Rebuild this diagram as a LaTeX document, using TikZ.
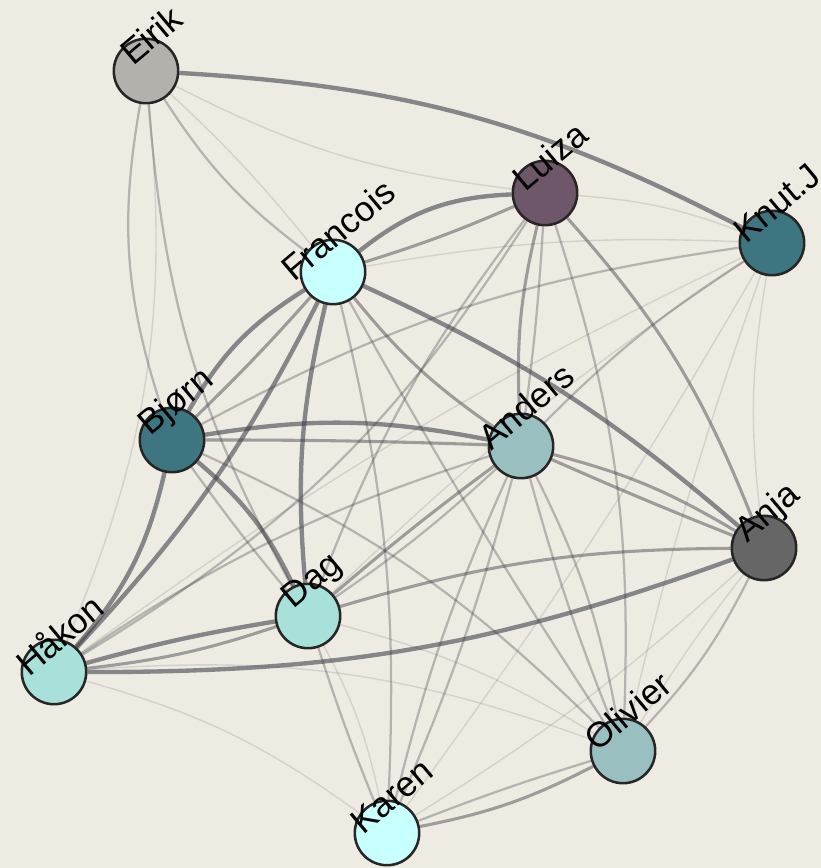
\documentclass[tikz,border=0pt]{standalone}
\usepackage{fontspec}
\setmainfont{Liberation Sans}
\usetikzlibrary{backgrounds}
\definecolor{bgcol}{HTML}{EEECE2}
\definecolor{eirikcol}{HTML}{B3B1AB}
\definecolor{luizacol}{HTML}{6E5768}
\definecolor{tealcol}{HTML}{3D7680}
\definecolor{cyancol}{HTML}{C8FFFF}
\definecolor{greyteal}{HTML}{9ABFC0}
\definecolor{anjacol}{HTML}{666666}
\definecolor{mintcol}{HTML}{A8E1D9}
\definecolor{edgecol}{HTML}{3C3C46}
\begin{document}
\begin{tikzpicture}[x=0.025cm, y=0.025cm,
    person/.style={circle, draw=black!85, line width=1.8pt, minimum size=1.61cm, inner sep=0pt},
    tag/.style={rotate=40, anchor=center, inner sep=0pt, font=\fontsize{25}{25}\selectfont},
    e1/.style={draw=edgecol, draw opacity=.15, line width=1pt},
    e2/.style={draw=edgecol, draw opacity=.32, line width=1.6pt},
    e3/.style={draw=edgecol, draw opacity=.45, line width=2.2pt},
    e4/.style={draw=edgecol, draw opacity=.58, line width=3.1pt}]
    \useasboundingbox (0,0) rectangle (821,868);

    \node[person, fill=eirikcol] (Eirik) at (146,797) {};
    \node[person, fill=luizacol] (Luiza) at (545,675) {};
    \node[person, fill=tealcol] (KnutJ) at (772,625) {};
    \node[person, fill=cyancol] (Francois) at (333,596) {};
    \node[person, fill=tealcol] (Bjorn) at (172,428) {};
    \node[person, fill=greyteal] (Anders) at (521,422) {};
    \node[person, fill=anjacol] (Anja) at (764,320) {};
    \node[person, fill=mintcol] (Dag) at (308,252) {};
    \node[person, fill=mintcol] (Hakon) at (54,196) {};
    \node[person, fill=greyteal] (Olivier) at (623,117) {};
    \node[person, fill=cyancol] (Karen) at (387,35) {};

    \node[tag] (Eirik-t) at ([shift={(5,36)}]Eirik.center) {Eirik};
    \node[tag] (Luiza-t) at ([shift={(5,37)}]Luiza.center) {Luiza};
    \node[tag] (KnutJ-t) at ([shift={(5,40)}]KnutJ.center) {Knut.J};
    \node[tag] (Francois-t) at ([shift={(5,42)}]Francois.center) {Francois};
    \node[tag] (Bjorn-t) at ([shift={(5,37)}]Bjorn.center) {Bjørn};
    \node[tag] (Anders-t) at ([shift={(5,40)}]Anders.center) {Anders};
    \node[tag] (Anja-t) at ([shift={(5,34)}]Anja.center) {Anja};
    \node[tag] (Dag-t) at ([shift={(5,34)}]Dag.center) {Dag};
    \node[tag] (Hakon-t) at ([shift={(5,38)}]Hakon.center) {Håkon};
    \node[tag] (Olivier-t) at ([shift={(5,40)}]Olivier.center) {Olivier};
    \node[tag] (Karen-t) at ([shift={(5,37)}]Karen.center) {Karen};

    \begin{scope}[on background layer]
    \fill[bgcol] (0,0) rectangle (821,868);
    \draw[e4] (Eirik) to[bend left=12] (KnutJ);
    \draw[e1] (Eirik) to[bend right=10] (Luiza);
    \draw[e2] (Eirik) to[bend right=10] (Francois);
    \draw[e1] (Eirik) to[bend left=4] (Francois);
    \draw[e2] (Eirik) to[bend right=14] (Bjorn);
    \draw[e2] (Eirik) to[bend right=12] (Dag);
    \draw[e1] (Eirik) to[bend left=14] (Hakon);
    \draw[e4] (Francois) to[bend left=18] (Luiza);
    \draw[e3] (Francois) to[bend right=3] (Luiza);
    \draw[e1] (Francois) to[bend left=6] (KnutJ);
    \draw[e4] (Francois) to[bend left=8] (Anja);
    \draw[e3] (Francois) to[bend right=8] (Anders);
    \draw[e4] (Francois) to[bend right=14] (Bjorn);
    \draw[e3] (Francois) to[bend left=2] (Bjorn);
    \draw[e4] (Francois) to[bend right=9] (Dag);
    \draw[e4] (Francois) to[bend left=8] (Hakon);
    \draw[e2] (Francois) to[bend left=8] (Karen);
    \draw[e2] (Francois) to[bend right=2] (Olivier);
    \draw[e1] (Luiza) to[bend left=8] (KnutJ);
    \draw[e3] (Luiza) to[bend right=8] (Anders);
    \draw[e2] (Luiza) to[bend left=2] (Anders);
    \draw[e3] (Luiza) to[bend left=10] (Anja);
    \draw[e2] (Luiza) to[bend left=10] (Olivier);
    \draw[e2] (Luiza) to[bend right=8] (Dag);
    \draw[e2] (Hakon) to[bend right=13] (Luiza);
    \draw[e2] (Bjorn) to[bend left=10] (KnutJ);
    \draw[e2] (KnutJ) to[bend right=6] (Anders);
    \draw[e1] (KnutJ) to[bend right=5] (Dag);
    \draw[e1] (KnutJ) to[bend right=5] (Hakon);
    \draw[e1] (KnutJ) to[bend right=8] (Anja);
    \draw[e1] (KnutJ) to[bend right=3] (Olivier);
    \draw[e1] (KnutJ) to[bend left=3] (Karen);
    \draw[e4] (Bjorn) to[bend left=10] (Anders);
    \draw[e3] (Bjorn) to[bend left=1] (Anders);
    \draw[e4] (Bjorn) to[bend left=12] (Dag);
    \draw[e2] (Bjorn) to[bend right=2] (Dag);
    \draw[e4] (Bjorn) to[bend left=14] (Hakon);
    \draw[e2] (Bjorn) to[bend left=10] (Olivier);
    \draw[e4] (Dag) to[bend right=3] (Hakon);
    \draw[e3] (Dag) to[bend left=6] (Hakon);
    \draw[e4] (Hakon) to[bend right=10] (Anja);
    \draw[e3] (Dag) to[bend left=8] (Anja);
    \draw[e3] (Anders) to[bend left=8] (Anja);
    \draw[e3] (Anders) to[bend right=1] (Anja);
    \draw[e2] (Anders) to[bend left=8] (Olivier);
    \draw[e2] (Anders) to[bend right=3] (Olivier);
    \draw[e2] (Anders) to[bend right=5] (Karen);
    \draw[e2] (Anders) to[bend left=4] (Karen);
    \draw[e2] (Hakon) to[bend left=8] (Anders);
    \draw[e3] (Anders) to[bend right=2] (Dag);
    \draw[e2] (Anders) to[bend left=4] (Dag);
    \draw[e3] (Olivier) to[bend left=8] (Karen);
    \draw[e2] (Olivier) to[bend right=2] (Karen);
    \draw[e2] (Olivier) to[bend right=8] (Anja);
    \draw[e1] (Olivier) to[bend left=3] (Anja);
    \draw[e1] (Hakon) to[bend left=12] (Olivier);
    \draw[e1] (Dag) to[bend left=8] (Olivier);
    \draw[e1] (Hakon) to[bend left=10] (Karen);
    \draw[e2] (Dag) to[bend right=2] (Karen);
    \draw[e1] (Dag) to[bend left=8] (Karen);
    \draw[e1] (Anja) to[bend left=5] (Karen);
    \end{scope}
\end{tikzpicture}
\end{document}
